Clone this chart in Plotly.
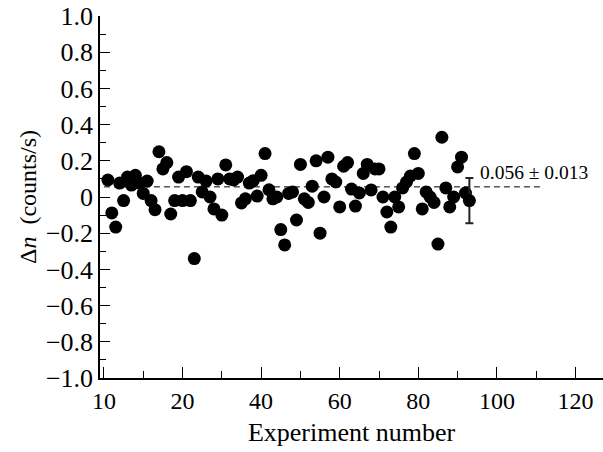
import plotly.graph_objects as go

# experiment number and measured delta n (counts/s)
experiment = list(range(1, 93))
delta_n = [0.094, -0.088, -0.166, 0.077, -0.02, 0.11, 0.066, 0.12, 0.077, 0.02,
           0.088, -0.02, -0.07, 0.25, 0.155, 0.19, -0.094, -0.02, 0.11, -0.02,
           0.14, -0.02, -0.34, 0.11, 0.028, 0.088, 0.0, -0.066, 0.1, -0.1,
           0.177, 0.1, 0.094, 0.11, -0.033, -0.01, 0.077, 0.09, 0.005, 0.12,
           0.24, 0.04, -0.01, 0.0, -0.18, -0.265, 0.02, 0.028, -0.127, 0.18,
           -0.01, -0.03, 0.06, 0.2, -0.2, 0.0, 0.22, 0.1, 0.083, -0.055,
           0.17, 0.19, 0.044, -0.05, 0.022, 0.13, 0.18, 0.039, 0.155, 0.155,
           0.0, -0.083, -0.166, 0.0, -0.055, 0.05, 0.083, 0.116, 0.24, 0.13,
           -0.066, 0.028, 0.0, -0.03, -0.26, 0.33, 0.05, -0.055, 0.0, 0.166,
           0.22, 0.022]

# last point with error bar
err_x = [93]
err_y = [-0.02]
err_size = [0.125]

# mean line
mean_value = 0.056
mean_range = [0, 111]
mean_label = "0.056 ± 0.013"

x_tickvals = [0, 20, 40, 60, 80, 100, 120]
x_ticktext = ["10", "20", "40", "60", "80", "100", "120"]
y_tickvals = [1.0, 0.8, 0.6, 0.4, 0.2, 0, -0.2, -0.4, -0.6, -0.8, -1.0]
y_ticktext = ["1.0", "0.8", "0.6", "0.4", "0.2", "0", "\u22120.2", "\u22120.4",
              "\u22120.6", "\u22120.8", "\u22121.0"]

serif = "Liberation Serif"

fig = go.Figure()

fig.add_trace(go.Scatter(x=mean_range, y=[mean_value, mean_value], mode="lines",
                         line=dict(color="black", width=1, dash="6px,4px"),
                         showlegend=False, hoverinfo="skip"))

fig.add_trace(go.Scatter(x=experiment, y=delta_n, mode="markers",
                         marker=dict(color="black", size=13),
                         showlegend=False))

fig.add_trace(go.Scatter(x=err_x, y=err_y, mode="markers",
                         marker=dict(color="black", size=13),
                         error_y=dict(type="data", array=err_size, color="#222",
                                      thickness=2, width=4),
                         showlegend=False))

fig.add_annotation(x=95.3, y=0.135, text=mean_label, showarrow=False,
                   xanchor="left", yanchor="middle",
                   font=dict(family=serif, size=19.5, color="black"))

fig.update_xaxes(range=[-1, 127], tickmode="array", tickvals=x_tickvals,
                 ticktext=x_ticktext, ticks="inside", ticklen=11, tickwidth=1.2,
                 tickcolor="black", showline=True, linecolor="black", linewidth=1.5,
                 showgrid=False, zeroline=False, automargin=False,
                 ticklabeloverflow="allow",
                 minor=dict(tickmode="array", tickvals=[10, 30, 50, 70, 90, 110],
                            ticks="inside", ticklen=7, tickwidth=1.2, tickcolor="black"),
                 tickfont=dict(family=serif, size=24, color="black"),
                 title=dict(text="Experiment number", standoff=10,
                            font=dict(family=serif, size=26, color="black")))

fig.update_yaxes(range=[-1, 1], tickmode="array", tickvals=y_tickvals,
                 ticktext=y_ticktext, ticks="inside", ticklen=10, tickwidth=1.2,
                 tickcolor="black", showline=True, linecolor="black", linewidth=1.5,
                 showgrid=False, zeroline=False, automargin=False,
                 ticklabeloverflow="allow",
                 minor=dict(tickmode="array",
                            tickvals=[0.9, 0.7, 0.5, 0.3, 0.1, -0.1, -0.3, -0.5, -0.7, -0.9],
                            ticks="inside", ticklen=6, tickwidth=1.2, tickcolor="black"),
                 tickfont=dict(family=serif, size=26, color="black"),
                 title=dict(text="\u0394<i>n</i>  (counts/s)", standoff=2,
                            font=dict(family=serif, size=24, color="black")))

fig.update_layout(width=603, height=452, plot_bgcolor="white", paper_bgcolor="white",
                  margin=dict(l=100, r=0, t=16, b=74))

# drop the default 8px body margin so the figure fills the window
fig.write_html("out.html", config={"displayModeBar": False},
               post_script="document.body.style.margin='0';")
